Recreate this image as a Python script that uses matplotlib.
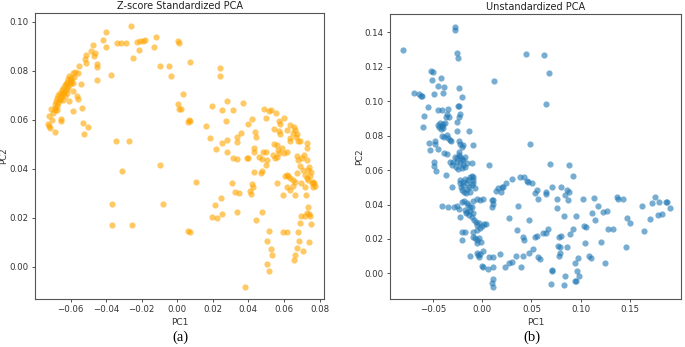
import matplotlib
matplotlib.use("Agg")
import matplotlib.pyplot as plt

# ---------------- Panel (a): Z-score standardized PCA ----------------
a_pc1 = [
    # upper arc and scattered points
    -0.0263, -0.0398, -0.0416, -0.0400, -0.0473, -0.0486, -0.0460, -0.0467, -0.0516, -0.0519,
    -0.0514, -0.0551, -0.0454, -0.0450, -0.0454, -0.0373, -0.0338, -0.0319, -0.0287, -0.0248,
    -0.0227, -0.0210, -0.0193, -0.0182, -0.0214, -0.0120, -0.0129, -0.0096, -0.0045, -0.0038,
    0.0002, 0.0010, 0.0071, 0.0032, 0.0004, 0.0011, 0.0021, 0.0066, 0.0062, 0.0071,
    0.0242, 0.0240, 0.0103, -0.0096, -0.0079, 0.0062, 0.0071, -0.0345, -0.0270, -0.0309,
    -0.0369, -0.0369, -0.0255, 0.0380,
    # left dense cluster
    -0.0589, -0.0560, -0.0542, -0.0585, -0.0566, -0.0557, -0.0608, -0.0641, -0.0632, -0.0660,
    -0.0589, -0.0533, -0.0529, -0.0501, -0.0525, -0.0654, -0.0654, -0.0688, -0.0679, -0.0711,
    -0.0720, -0.0726, -0.0720, -0.0713, -0.0690, -0.0700, -0.0705,
    -0.0608, -0.0600, -0.0615, -0.0595, -0.0620, -0.0605, -0.0630, -0.0612, -0.0640, -0.0622,
    -0.0650, -0.0632, -0.0660, -0.0645, -0.0668, -0.0655, -0.0675, -0.0662, -0.0680, -0.0670,
    -0.0688, -0.0678, -0.0690, -0.0598, -0.0588, -0.0625, -0.0640, -0.0618, -0.0575, -0.0582,
    # right cluster
    0.0197, 0.0281, 0.0249, 0.0311, 0.0369, 0.0159, 0.0274, 0.0182, 0.0218, 0.0253,
    0.0281, 0.0334, 0.0358, 0.0338, 0.0281, 0.0315, 0.0338, 0.0390, 0.0399, 0.0396,
    0.0418, 0.0437, 0.0444, 0.0429, 0.0429, 0.0458, 0.0482, 0.0497, 0.0489, 0.0516,
    0.0527, 0.0555, 0.0501, 0.0602, 0.0572, 0.0578, 0.0544, 0.0570, 0.0578, 0.0619,
    0.0634, 0.0656, 0.0662, 0.0653, 0.0671, 0.0634, 0.0634, 0.0681, 0.0690, 0.0728,
    0.0731, 0.0668, 0.0546, 0.0559, 0.0568, 0.0587, 0.0574, 0.0602, 0.0615, 0.0506,
    0.0499, 0.0540, 0.0549, 0.0563, 0.0474, 0.0471, 0.0433, 0.0418, 0.0428, 0.0409,
    0.0309, 0.0326, 0.0349, 0.0413, 0.0478, 0.0563, 0.0593, 0.0606, 0.0615, 0.0624,
    0.0634, 0.0653, 0.0662, 0.0671, 0.0681, 0.0671, 0.0690, 0.0709, 0.0718, 0.0728,
    0.0737, 0.0746, 0.0756, 0.0765, 0.0761, 0.0737, 0.0743, 0.0750, 0.0728, 0.0713,
    0.0699, 0.0718, 0.0694, 0.0653, 0.0615, 0.0634, 0.0662, 0.0724, 0.0770, 0.0775,
    # lower right
    0.0248, 0.0210, 0.0253, 0.0193, 0.0225, 0.0334, 0.0474, 0.0443, 0.0517, 0.0502,
    0.0525, 0.0534, 0.0506, 0.0517, 0.0593, 0.0615, 0.0681, 0.0683, 0.0675, 0.0662,
    0.0656, 0.0705, 0.0739, 0.0690, 0.0694, 0.0728, 0.0743, 0.0746, 0.0720, 0.0750,
    0.0733,
]
a_pc2 = [
    0.0981, 0.0956, 0.0926, 0.0895, 0.0903, 0.0881, 0.0870, 0.0861, 0.0865, 0.0847,
    0.0831, 0.0817, 0.0826, 0.0813, 0.0763, 0.0783, 0.0911, 0.0914, 0.0911, 0.0851,
    0.0917, 0.0920, 0.0920, 0.0925, 0.0886, 0.0936, 0.0895, 0.0819, 0.0819, 0.0777,
    0.0922, 0.0913, 0.0837, 0.0704, 0.0662, 0.0643, 0.0643, 0.0597, 0.0590, 0.0594,
    0.0812, 0.0779, 0.0345, 0.0413, 0.0255, 0.0147, 0.0143, 0.0511, 0.0511, 0.0390,
    0.0257, 0.0169, 0.0169, -0.0082,
    0.0790, 0.0790, 0.0745, 0.0715, 0.0698, 0.0684, 0.0674, 0.0681, 0.0698, 0.0684,
    0.0634, 0.0647, 0.0586, 0.0569, 0.0542, 0.0603, 0.0593, 0.0640, 0.0640, 0.0643,
    0.0613, 0.0583, 0.0575, 0.0565, 0.0550, 0.0625, 0.0600,
    0.0780, 0.0770, 0.0765, 0.0755, 0.0752, 0.0745, 0.0740, 0.0735, 0.0730, 0.0725,
    0.0720, 0.0715, 0.0710, 0.0705, 0.0700, 0.0695, 0.0688, 0.0680, 0.0675, 0.0668,
    0.0662, 0.0655, 0.0648, 0.0762, 0.0750, 0.0745, 0.0708, 0.0710, 0.0795, 0.0775,
    0.0655, 0.0676, 0.0640, 0.0640, 0.0666, 0.0575, 0.0593, 0.0525, 0.0481, 0.0505,
    0.0518, 0.0531, 0.0545, 0.0508, 0.0469, 0.0443, 0.0440, 0.0443, 0.0444, 0.0583,
    0.0602, 0.0550, 0.0531, 0.0486, 0.0469, 0.0447, 0.0466, 0.0466, 0.0643, 0.0634,
    0.0640, 0.0629, 0.0605, 0.0608, 0.0593, 0.0583, 0.0561, 0.0552, 0.0542, 0.0559,
    0.0578, 0.0569, 0.0556, 0.0545, 0.0542, 0.0527, 0.0511, 0.0511, 0.0514, 0.0504,
    0.0484, 0.0531, 0.0500, 0.0495, 0.0477, 0.0484, 0.0463, 0.0463, 0.0466, 0.0436,
    0.0416, 0.0456, 0.0443, 0.0447, 0.0391, 0.0381, 0.0386, 0.0337, 0.0327, 0.0307,
    0.0341, 0.0304, 0.0302, 0.0297, 0.0440, 0.0341, 0.0293, 0.0368, 0.0375, 0.0368,
    0.0361, 0.0354, 0.0347, 0.0381, 0.0436, 0.0450, 0.0409, 0.0395, 0.0375, 0.0361,
    0.0354, 0.0368, 0.0341, 0.0327, 0.0347, 0.0395, 0.0406, 0.0388, 0.0436, 0.0456,
    0.0443, 0.0327, 0.0341, 0.0330, 0.0327, 0.0313, 0.0293, 0.0293, 0.0340, 0.0330,
    0.0279, 0.0253, 0.0214, 0.0202, 0.0199, 0.0225, 0.0223, 0.0191, 0.0147, 0.0104,
    0.0072, 0.0048, 0.0011, -0.0016, 0.0143, 0.0143, 0.0143, 0.0106, 0.0075, 0.0048,
    0.0027, 0.0065, 0.0099, 0.0177, 0.0207, 0.0218, 0.0215, 0.0207, 0.0207, 0.0173,
    0.0243,
]

# ---------------- Panel (b): unstandardized PCA ----------------
b_pc1 = [
    # upper / far-left points
    -0.0810, -0.0278, -0.0278, -0.0261, -0.0244, 0.0122, 0.0444, 0.0624, 0.0681, 0.0647,
    -0.0525, -0.0498, -0.0515, -0.0420, -0.0454, -0.0386, -0.0488, -0.0397, -0.0234, -0.0207,
    -0.0692, -0.0647, -0.0624, -0.0610, -0.0549, -0.0590, -0.0600, -0.0546, -0.0532, -0.0478,
    -0.0492, -0.0488, -0.0468, -0.0454, -0.0414, -0.0346, -0.0336, -0.0370, -0.0363, -0.0251,
    -0.0234, -0.0227, -0.0241, -0.0254, -0.0447, -0.0431, -0.0414, -0.0397, -0.0424, -0.0437,
    -0.0404, -0.0380, -0.0261, -0.0132, -0.0414, -0.0390, -0.0363, -0.0346, -0.0329, -0.0319,
    -0.0481, -0.0234, -0.0227, -0.0200, -0.0210, -0.0098, -0.0447, -0.0386, -0.0363, -0.0241,
    -0.0234,
    # central arm
    -0.0278, -0.0261, -0.0227, -0.0210, -0.0193, -0.0176, -0.0254, -0.0295, -0.0227, -0.0193,
    -0.0268, -0.0244, -0.0210, -0.0176, -0.0159, -0.0102, 0.0068, 0.0485, -0.0369, -0.0312,
    -0.0325, -0.0312,
    -0.0227, -0.0200, -0.0176, -0.0159, -0.0142, -0.0193, -0.0125, -0.0108, -0.0092, -0.0098,
    -0.0210, -0.0186, -0.0159, -0.0132, -0.0108, -0.0227, -0.0220, -0.0166, -0.0125, -0.0075,
    -0.0092,
    -0.0414, -0.0346, -0.0288, -0.0261, -0.0234, -0.0210, -0.0186, -0.0159, -0.0142, -0.0125,
    -0.0108, -0.0092, -0.0058, -0.0024, 0.0010, -0.0176, -0.0153, -0.0125, -0.0098, -0.0132,
    -0.0166, -0.0227,
    -0.0108, -0.0085, -0.0064, -0.0058, -0.0031, -0.0007, 0.0017, 0.0037, -0.0024, -0.0058,
    -0.0092, -0.0210, -0.0176, -0.0210,
    -0.0092, -0.0075, -0.0058, -0.0031, -0.0017, -0.0051, -0.0125, -0.0058, -0.0041, -0.0031,
    -0.0024, 0.0010, 0.0068, 0.0112, 0.0180, 0.0000, 0.0003, 0.0061, 0.0105, 0.0112,
    0.0095, 0.0112,
    # lower loop and right branch
    0.0230, 0.0275, 0.0298, 0.0393, 0.0342, 0.0417, 0.0478, 0.0512, 0.0569, 0.0586,
    0.0417, 0.0427, 0.0532, 0.0553, 0.0620, 0.0647, 0.0671, 0.0349, 0.0271, 0.0475,
    0.0363, 0.0095, 0.0112, 0.0112, 0.0095, 0.0139, 0.0163, 0.0186, 0.0197, 0.0214,
    0.0241, 0.0298, 0.0383, 0.0424, 0.0451, 0.0468, 0.0502, 0.0536, 0.0559, 0.0566,
    0.0647, 0.0647, 0.0705, 0.0688, 0.0878, 0.0925, 0.0756, 0.0800, 0.0858, 0.0885,
    0.0837, 0.0875, 0.0756, 0.0834, 0.0953, 0.1020, 0.1136, 0.1173, 0.1112, 0.1231,
    0.1271, 0.1373, 0.1383, 0.1434, 0.1475, 0.1502, 0.1627, 0.1644, 0.1705, 0.1729,
    0.1756, 0.1797, 0.1790, 0.1824, 0.1868, 0.1881, 0.1908, 0.1458, 0.1247, 0.1275,
    0.1325, 0.1204, 0.1146, 0.1054, 0.1034, 0.1044, 0.1088, 0.1102, 0.0919, 0.0892,
    0.0773, 0.0790, 0.0864, 0.0800, 0.0783, 0.0970, 0.0942, 0.0966, 0.0986, 0.0942,
    0.0953, 0.0844, 0.0831, 0.0708, 0.0708, 0.0698, 0.0776, 0.0790,
]
b_pc2 = [
    0.1298, 0.1433, 0.1414, 0.1282, 0.1253, 0.1119, 0.1272, 0.1268, 0.1164, 0.0986,
    0.1175, 0.1172, 0.1123, 0.1137, 0.1088, 0.1081, 0.1042, 0.1050, 0.1075, 0.1026,
    0.1050, 0.1042, 0.1032, 0.1030, 0.0968, 0.0916, 0.0852, 0.0755, 0.0717, 0.0771,
    0.0645, 0.0625, 0.0593, 0.0949, 0.0949, 0.0953, 0.0910, 0.0906, 0.0926, 0.0972,
    0.0972, 0.0924, 0.0910, 0.0881, 0.0862, 0.0871, 0.0857, 0.0843, 0.0837, 0.0848,
    0.0866, 0.0873, 0.0827, 0.0827, 0.0798, 0.0794, 0.0804, 0.0784, 0.0775, 0.0771,
    0.0751, 0.0771, 0.0751, 0.0746, 0.0732, 0.0746, 0.0722, 0.0701, 0.0693, 0.0703,
    0.0689,
    0.0678, 0.0668, 0.0678, 0.0662, 0.0658, 0.0674, 0.0649, 0.0649, 0.0639, 0.0629,
    0.0616, 0.0604, 0.0610, 0.0620, 0.0639, 0.0643, 0.0631, 0.0751, 0.0571, 0.0503,
    0.0650, 0.0632,
    0.0542, 0.0533, 0.0546, 0.0523, 0.0542, 0.0513, 0.0562, 0.0565, 0.0562, 0.0542,
    0.0484, 0.0474, 0.0488, 0.0503, 0.0513, 0.0523, 0.0503, 0.0469, 0.0474, 0.0494,
    0.0523,
    0.0391, 0.0387, 0.0387, 0.0391, 0.0372, 0.0416, 0.0422, 0.0407, 0.0397, 0.0383,
    0.0387, 0.0422, 0.0430, 0.0426, 0.0430, 0.0368, 0.0358, 0.0364, 0.0349, 0.0339,
    0.0349, 0.0329,
    0.0325, 0.0310, 0.0298, 0.0281, 0.0290, 0.0275, 0.0287, 0.0287, 0.0261, 0.0252,
    0.0242, 0.0242, 0.0242, 0.0194,
    0.0213, 0.0203, 0.0194, 0.0203, 0.0184, 0.0174, 0.0101, 0.0116, 0.0107, 0.0097,
    0.0112, 0.0132, 0.0097, 0.0097, 0.0112, 0.0045, 0.0039, 0.0023, 0.0035, -0.0035,
    -0.0058, -0.0077,
    0.0039, 0.0062, 0.0068, 0.0035, 0.0101, 0.0101, 0.0120, 0.0139, 0.0093, 0.0081,
    0.0213, 0.0194, 0.0209, 0.0217, 0.0236, 0.0232, 0.0259, 0.0252, 0.0320, 0.0310,
    0.0391, 0.0426, 0.0426, 0.0403, 0.0383, 0.0480, 0.0494, 0.0474, 0.0500, 0.0503,
    0.0523, 0.0546, 0.0562, 0.0558, 0.0538, 0.0533, 0.0523, 0.0465, 0.0484, 0.0430,
    0.0461, 0.0474, 0.0503, 0.0635, 0.0631, 0.0565, 0.0430, 0.0503, 0.0484, 0.0474,
    0.0453, 0.0426, 0.0378, 0.0333, 0.0333, 0.0430, 0.0438, 0.0393, 0.0349, 0.0358,
    0.0364, 0.0445, 0.0430, 0.0430, 0.0320, 0.0294, 0.0391, 0.0246, 0.0314, 0.0407,
    0.0442, 0.0412, 0.0339, 0.0343, 0.0412, 0.0412, 0.0381, 0.0155, 0.0062, 0.0256,
    0.0256, 0.0184, 0.0310, 0.0271, 0.0275, 0.0174, 0.0101, 0.0087, 0.0256, 0.0228,
    0.0161, 0.0151, 0.0155, 0.0217, 0.0209, 0.0087, 0.0062, 0.0015, -0.0015, -0.0043,
    -0.0043, -0.0015, -0.0068, 0.0015, 0.0018, -0.0064, 0.0101, 0.0116,
]

titles = ["Z-score Standardized PCA", "Unstandardized PCA"]
captions = ["(a)", "(b)"]
a_xticks = [-0.06, -0.04, -0.02, 0.00, 0.02, 0.04, 0.06, 0.08]
a_yticks = [0.00, 0.02, 0.04, 0.06, 0.08, 0.10]
b_xticks = [-0.05, 0.00, 0.05, 0.10, 0.15]
b_yticks = [0.00, 0.02, 0.04, 0.06, 0.08, 0.10, 0.12, 0.14]

fig = plt.figure(figsize=(6.85, 3.47), dpi=100)
ax1 = fig.add_axes([0.0511, 0.1383, 0.4219, 0.8242])
ax2 = fig.add_axes([0.5693, 0.1383, 0.4244, 0.8213])

ax1.scatter(a_pc1, a_pc2, s=20, color="orange", alpha=0.6, linewidths=0)
ax2.scatter(b_pc1, b_pc2, s=20, color="#1f77b4", alpha=0.6, linewidths=0)

ax1.set_xlim(-0.080, 0.0825)
ax1.set_ylim(-0.0132, 0.1035)
ax2.set_xlim(-0.0939, 0.2017)
ax2.set_ylim(-0.0149, 0.1507)

for ax, xt, yt, ttl, ylx in [(ax1, a_xticks, a_yticks, titles[0], -0.093),
                             (ax2, b_xticks, b_yticks, titles[1], -0.089)]:
    ax.set_xticks(xt)
    ax.set_yticks(yt)
    ax.set_xticklabels([f"{v:.2f}".replace("-", "\u2212") for v in xt])
    ax.set_yticklabels([f"{v:.2f}".replace("-", "\u2212") for v in yt])
    ax.tick_params(labelsize=6.2, length=2.5, width=0.6, colors="#333333", pad=2)
    for sp in ax.spines.values():
        sp.set_color("#555555")
        sp.set_linewidth(0.8)
    ax.set_title(ttl, fontsize=7, color="#222222", pad=3)
    ax.set_xlabel("PC1", fontsize=6.5, color="#333333", labelpad=3)
    ax.set_ylabel("PC2", fontsize=6.2, color="#333333")
    ax.yaxis.set_label_coords(ylx, 0.5)

fig.text(0.263, 0.027, captions[0], family="Liberation Serif", fontsize=10.5,
         ha="center", va="center")
fig.text(0.777, 0.027, captions[1], family="Liberation Serif", fontsize=10.5,
         ha="center", va="center")

fig.savefig("out.png", dpi=100)
